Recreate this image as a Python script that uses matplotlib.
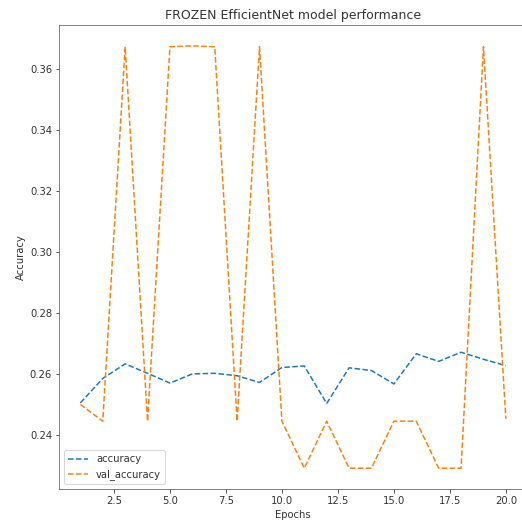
import matplotlib
matplotlib.use("Agg")
import matplotlib.pyplot as plt

epochs = list(range(1, 21))
accuracy = [0.2505, 0.2585, 0.2633, 0.2602, 0.2570, 0.2600, 0.2602, 0.2594, 0.2572, 0.2621,
            0.2626, 0.2503, 0.2620, 0.2611, 0.2567, 0.2666, 0.2641, 0.2671, 0.2648, 0.2627]
val_accuracy = [0.2500, 0.2445, 0.3672, 0.2445, 0.3672, 0.3675, 0.3672, 0.2445, 0.3672, 0.2445,
                0.2291, 0.2445, 0.2291, 0.2291, 0.2445, 0.2445, 0.2291, 0.2291, 0.3672, 0.2453]

text_color = "#333333"
plt.rcParams.update({
    "text.color": text_color,
    "axes.labelcolor": text_color,
    "xtick.color": text_color,
    "ytick.color": text_color,
})

fig = plt.figure(figsize=(7.25, 7.25), dpi=72)
ax = fig.add_axes([0.1132, 0.0626, 0.8966, 0.890])

ax.plot(epochs, accuracy, "--", color="#1f77b4", lw=1.5, label="accuracy")
ax.plot(epochs, val_accuracy, "--", color="#ff7f0e", lw=1.5, label="val_accuracy")

ax.set_title("FROZEN EfficientNet model performance", fontsize=12.5)
ax.set_xlabel("Epochs")
ax.set_ylabel("Accuracy")
ax.legend(loc="lower left")

for s in ax.spines.values():
    s.set_color("#666666")

fig.savefig("out.png", dpi=72)
